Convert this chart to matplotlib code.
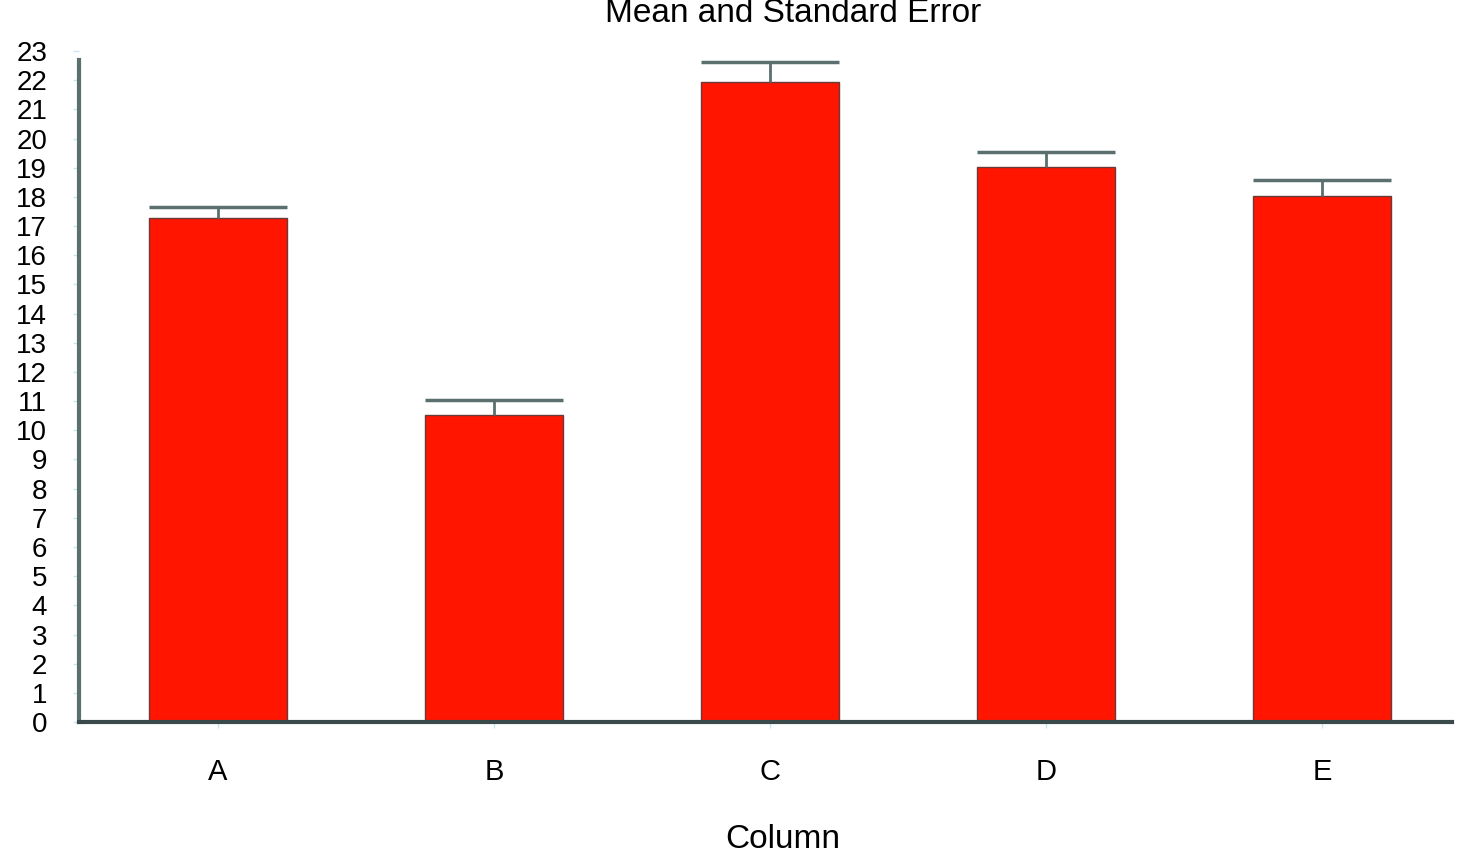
import matplotlib
matplotlib.use("Agg")
import matplotlib.pyplot as plt
import numpy as np

categories = ["A", "B", "C", "D", "E"]
means = [17.27, 10.52, 21.95, 19.01, 18.04]
errors = [0.40, 0.52, 0.67, 0.54, 0.53]
yticks = list(range(0, 24))

plt.rcParams['font.family'] = ['Liberation Sans', 'DejaVu Sans']

fig = plt.figure(figsize=(14.8, 8.56), dpi=100)
ax = fig.add_axes([0.0534, 0.1565, 0.9276, 0.7839])

x = np.arange(len(categories))
width = 0.5
ax.bar(x, means, width=width, color="#ff1500", edgecolor="#6a3a3a", linewidth=1.0, zorder=2)
tops = np.array(means) + np.array(errors)
ax.vlines(x, means, tops, color="#5c6f6f", linewidth=2.0, zorder=3)
ax.hlines(tops, x - width / 2, x + width / 2, color="#5c6f6f", linewidth=2.5, zorder=3)

ax.set_xlim(-0.504, 4.471)
ax.set_ylim(0, 23)
ax.set_yticks(yticks)
ax.set_yticklabels([str(t) for t in yticks], fontsize=20)
ax.set_xticks(x)
ax.set_xticklabels(categories, fontsize=21)

for s in ["top", "right"]:
    ax.spines[s].set_visible(False)
ax.spines["left"].set_bounds(0, 22.7)
ax.spines["left"].set_color("#5c6f6f")
ax.spines["left"].set_linewidth(3)
ax.spines["bottom"].set_color("#3a4a4a")
ax.spines["bottom"].set_linewidth(3)

ax.tick_params(axis="y", length=4, width=1, color="#c8e8ec", pad=19)
ax.tick_params(axis="x", length=4, width=1, color="#c8e8ec", pad=22)

fig.text(0.536, 1 - 14 / 856, "Mean and Standard Error", fontsize=24,
         ha="center", va="center")
ax.set_xlabel("Column", fontsize=24)
ax.xaxis.set_label_coords(0.529, 1 - 824 / 856, transform=fig.transFigure)

fig.savefig("out.png", dpi=100, facecolor="white")
